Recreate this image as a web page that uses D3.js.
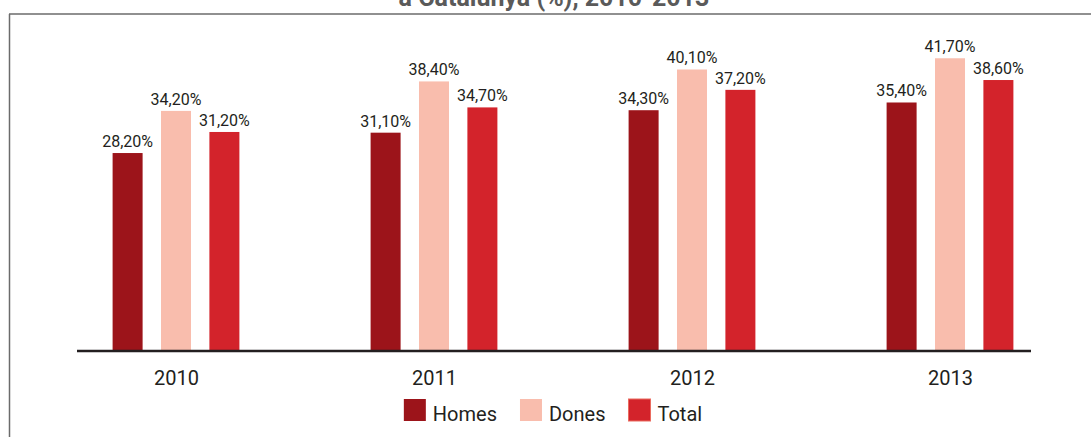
<!DOCTYPE html>
<html>
<head>
<meta charset="utf-8">
<script src="https://cdn.jsdelivr.net/npm/d3@7"></script>
<style>
  body { margin: 0; background: #fff; }
  text { font-family: Roboto, "Liberation Sans", sans-serif; fill: #231f20; }
</style>
</head>
<body>
<script>
const years = ["2010", "2011", "2012", "2013"];
const series = ["Homes", "Dones", "Total"];
const homes = [28.2, 31.1, 34.3, 35.4];
const dones = [34.2, 38.4, 40.1, 41.7];
const total = [31.2, 34.7, 37.2, 38.6];
const colors = ["#9c141a", "#f9bdad", "#d3232b"];

const W = 1091, H = 437;
const baseY = 351;

const svg = d3.select("body").append("svg")
    .attr("width", W)
    .attr("height", H);

// frame (top and left edges visible)
svg.append("line")
    .attr("x1", 9).attr("x2", W)
    .attr("y1", 14).attr("y2", 14)
    .attr("stroke", "#6b6b6b").attr("stroke-width", 1.5);
svg.append("line")
    .attr("x1", 9.5).attr("x2", 9.5)
    .attr("y1", 14).attr("y2", H)
    .attr("stroke", "#6b6b6b").attr("stroke-width", 1.5);

// title (clipped second line)
svg.append("text")
    .attr("x", 554)
    .attr("y", 6)
    .attr("text-anchor", "middle")
    .style("font-size", "25px")
    .style("font-weight", "bold")
    .style("fill", "#5a5a5a")
    .text("a Catalunya (%), 2010-2013");

const x0 = d3.scalePoint()
    .domain(years)
    .range([176, 950]);

const x1 = d3.scaleBand()
    .domain(series)
    .range([-63.4, 63.4])
    .paddingInner(0.38);

const y = d3.scaleLinear()
    .domain([0, 50])
    .range([baseY, 0]);

const color = d3.scaleOrdinal().domain(series).range(colors);

const rows = years.map((yr, i) => ({
  year: yr,
  vals: [
    { key: "Homes", v: homes[i] },
    { key: "Dones", v: dones[i] },
    { key: "Total", v: total[i] }
  ]
}));

const groups = svg.append("g")
  .selectAll("g")
  .data(rows)
  .enter()
  .append("g")
    .attr("transform", d => `translate(${x0(d.year)},0)`);

groups.selectAll("rect")
  .data(d => d.vals)
  .enter()
  .append("rect")
    .attr("x", d => x1(d.key))
    .attr("y", d => y(d.v))
    .attr("width", x1.bandwidth())
    .attr("height", d => y(0) - y(d.v))
    .style("fill", d => color(d.key));

groups.selectAll("text.val")
  .data(d => d.vals)
  .enter()
  .append("text")
    .attr("class", "val")
    .attr("x", d => x1(d.key) + x1.bandwidth() / 2)
    .attr("y", d => y(d.v) - 6)
    .attr("text-anchor", "middle")
    .style("font-size", "16px")
    .text(d => d.v.toFixed(2).replace(".", ",") + "%");

// x axis
const xAxis = svg.append("g")
    .attr("transform", `translate(0,${baseY})`)
    .call(d3.axisBottom(x0).tickSize(0).tickPadding(20));
xAxis.select(".domain")
    .attr("d", "M77,0H1031")
    .attr("stroke", "#231f20")
    .attr("stroke-width", 2.5);
xAxis.selectAll("text")
    .style("font-size", "20px")
    .style("font-family", "Roboto, sans-serif")
    .attr("fill", "#231f20");

// legend
const legend = svg.append("g");
let lx = 0;
series.forEach((s, i) => {
  const item = legend.append("g").attr("transform", `translate(${lx},0)`);
  item.append("rect")
      .attr("x", 0).attr("y", 399)
      .attr("width", 22).attr("height", 22)
      .style("fill", colors[i])
      .style("stroke", i === 2 ? "#ea6b5f" : "none")
      .style("stroke-width", 1);
  const t = item.append("text")
      .attr("x", 29).attr("y", 421)
      .style("font-size", "20px")
      .text(s);
  lx += 29 + t.node().getComputedTextLength() + 23;
});
const legW = lx - 23;
legend.attr("transform", `translate(${553 - legW / 2},0)`);
</script>
</body>
</html>
